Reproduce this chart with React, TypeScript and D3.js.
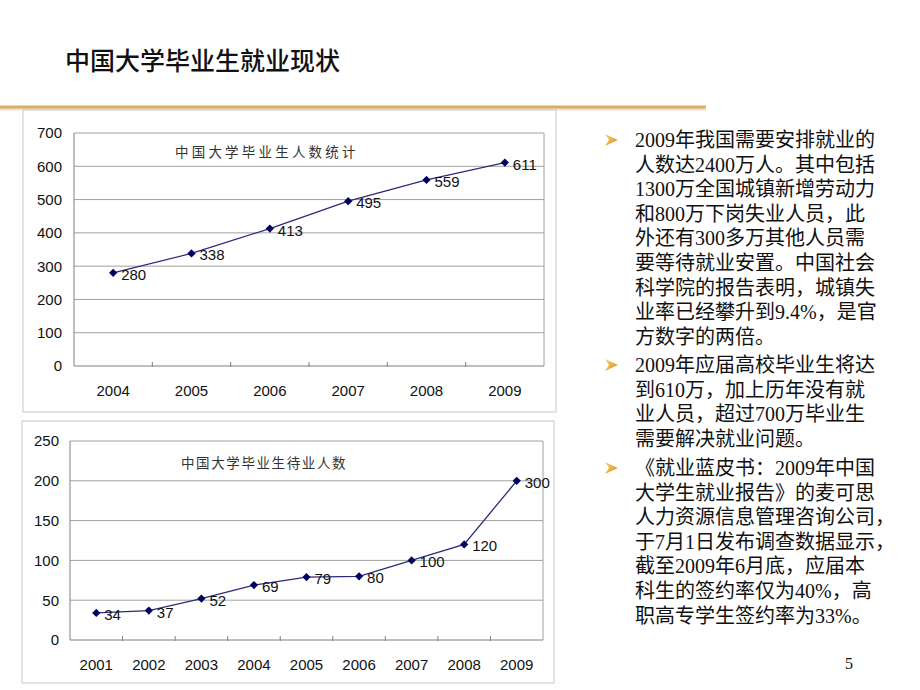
import React from 'react';
import * as d3 from 'd3';

// chart 1: 中国大学毕业生人数统计 (万人)
const gradYears = ['2004', '2005', '2006', '2007', '2008', '2009'];
const gradValues = [280, 338, 413, 495, 559, 611];
const gradTicks = [0, 100, 200, 300, 400, 500, 600, 700];

// chart 2: 中国大学毕业生待业人数 (last point is drawn at 200 but labelled 300 in the original)
const waitYears = ['2001', '2002', '2003', '2004', '2005', '2006', '2007', '2008', '2009'];
const waitValues = [34, 37, 52, 69, 79, 80, 100, 120, 200];
const waitLabels = ['34', '37', '52', '69', '79', '80', '100', '120', '300'];
const waitTicks = [0, 50, 100, 150, 200, 250];

const bullets = [
  [
    '2009年我国需要安排就业的',
    '人数达2400万人。其中包括',
    '1300万全国城镇新增劳动力',
    '和800万下岗失业人员，此',
    '外还有300多万其他人员需',
    '要等待就业安置。中国社会',
    '科学院的报告表明，城镇失',
    '业率已经攀升到9.4%，是官',
    '方数字的两倍。',
  ],
  [
    '2009年应届高校毕业生将达',
    '到610万，加上历年没有就',
    '业人员，超过700万毕业生',
    '需要解决就业问题。',
  ],
  [
    '《就业蓝皮书：2009年中国',
    '大学生就业报告》的麦可思',
    '人力资源信息管理咨询公司，',
    '于7月1日发布调查数据显示，',
    '截至2009年6月底，应届本',
    '科生的签约率仅为40%，高',
    '职高专学生签约率为33%。',
  ],
];
const bulletStarts = [140, 365, 468];

const sans = '"Liberation Sans", Arial, "Noto Sans CJK SC", sans-serif';
const serif = '"Liberation Serif", "Noto Sans CJK SC", serif';

type ChartProps = {
  box: [number, number, number, number];
  plot: [number, number, number, number];
  years: string[];
  values: number[];
  labels: string[];
  ticks: number[];
  title: string;
  titleX: number;
  titleY: number;
  titleSpacing: number;
  labelRight: number;
};

function LineChart(p: ChartProps) {
  const [pl, pt, pr, pb] = p.plot;
  const x = d3.scaleBand<string>().domain(p.years).range([pl, pr]);
  const y = d3.scaleLinear().domain([0, p.ticks[p.ticks.length - 1]]).range([pb, pt]);
  const cx = (d: string) => (x(d) ?? 0) + x.bandwidth() / 2;
  const line = d3.line<number>()
    .x((_, i) => cx(p.years[i]))
    .y(v => y(v));
  const marker = d3.symbol(d3.symbolSquare, 34)();

  return (
    <g>
      <rect x={p.box[0]} y={p.box[1]} width={p.box[2] - p.box[0]} height={p.box[3] - p.box[1]}
        fill="#fff" stroke="#c8c8c8" strokeWidth={1} />
      {p.ticks.map(t => (
        <g key={t}>
          {t > 0 && <line x1={pl} x2={pr} y1={y(t)} y2={y(t)} stroke="#a0a0a0" strokeWidth={1} />}
          <text x={p.labelRight} y={y(t)} dy="0.36em" textAnchor="end" fontFamily={sans} fontSize={15} fill="#111">{t}</text>
        </g>
      ))}
      <line x1={pr} x2={pr} y1={pt} y2={pb} stroke="#a0a0a0" />
      <line x1={pl} x2={pl} y1={pt} y2={pb} stroke="#808080" />
      <line x1={pl} x2={pr} y1={pb} y2={pb} stroke="#808080" />
      {p.years.slice(1).map(d => (
        <line key={d} x1={x(d)} x2={x(d)} y1={pb - 4} y2={pb + 1} stroke="#808080" />
      ))}
      {p.years.map(d => (
        <text key={d} x={cx(d)} y={pb + 30} textAnchor="middle" fontFamily={sans} fontSize={15} fill="#111">{d}</text>
      ))}
      <text x={p.titleX} y={p.titleY} dy="0.35em" fontFamily='"Noto Sans CJK SC", serif' fontSize={13.5}
        letterSpacing={p.titleSpacing} fill="#333">{p.title}</text>
      <path d={line(p.values) ?? ''} fill="none" stroke="#2b2b7a" strokeWidth={1.3} />
      {p.values.map((v, i) => (
        <g key={i}>
          <path d={marker ?? ''} transform={`translate(${cx(p.years[i])},${y(v)}) rotate(45)`} fill="#00005e" />
          <text x={cx(p.years[i]) + 8} y={y(v) + 7} fontFamily={sans} fontSize={15} fill="#111">{p.labels[i]}</text>
        </g>
      ))}
    </g>
  );
}

function Arrow({ x, y }: { x: number; y: number }) {
  return (
    <path d={`M${x},${y - 6} L${x + 13},${y} L${x},${y + 6} L${x + 4},${y} Z`} fill="url(#arrowGrad)" />
  );
}

export default function App() {
  const lineH = 24.6;
  return (
    <svg width={920} height={690} viewBox="0 0 920 690"
      style={{ position: 'absolute', left: 0, top: 0, background: '#fff' }}>
      <defs>
        <linearGradient id="arrowGrad" x1="0" y1="0" x2="1" y2="1">
          <stop offset="0" stopColor="#f7d774" />
          <stop offset="1" stopColor="#d98b1c" />
        </linearGradient>
      </defs>
      <rect width={920} height={690} fill="#fff" />
      <text x={65} y={70} fontFamily='"Noto Sans CJK SC", sans-serif' fontSize={25} fontWeight={500} fill="#111">
        中国大学毕业生就业现状
      </text>
      <line x1={0} x2={706} y1={109} y2={109} stroke="#f6dcd6" strokeWidth={3} />
      <line x1={0} x2={706} y1={107} y2={107} stroke="#d4b25e" strokeWidth={3} />

      <LineChart box={[23, 110, 556, 412]} plot={[74, 133, 544, 366]} years={gradYears}
        values={gradValues} labels={gradValues.map(String)} ticks={gradTicks}
        title="中国大学毕业生人数统计" titleX={175} titleY={152} titleSpacing={3.2} labelRight={62} />
      <LineChart box={[22, 421, 554, 683]} plot={[70, 441, 543, 640]} years={waitYears}
        values={waitValues} labels={waitLabels} ticks={waitTicks}
        title="中国大学毕业生待业人数" titleX={181} titleY={463} titleSpacing={1.6} labelRight={59} />

      {bullets.map((lines, b) => (
        <g key={b}>
          <Arrow x={605} y={bulletStarts[b]} />
          {lines.map((t, i) => (
            <text key={i} x={635} y={bulletStarts[b] + i * lineH + 7} fontFamily={serif} fontSize={20} fill="#111">{t}</text>
          ))}
        </g>
      ))}
      <text x={849} y={669} textAnchor="middle" fontFamily={serif} fontSize={16} fill="#111">5</text>
    </svg>
  );
}
